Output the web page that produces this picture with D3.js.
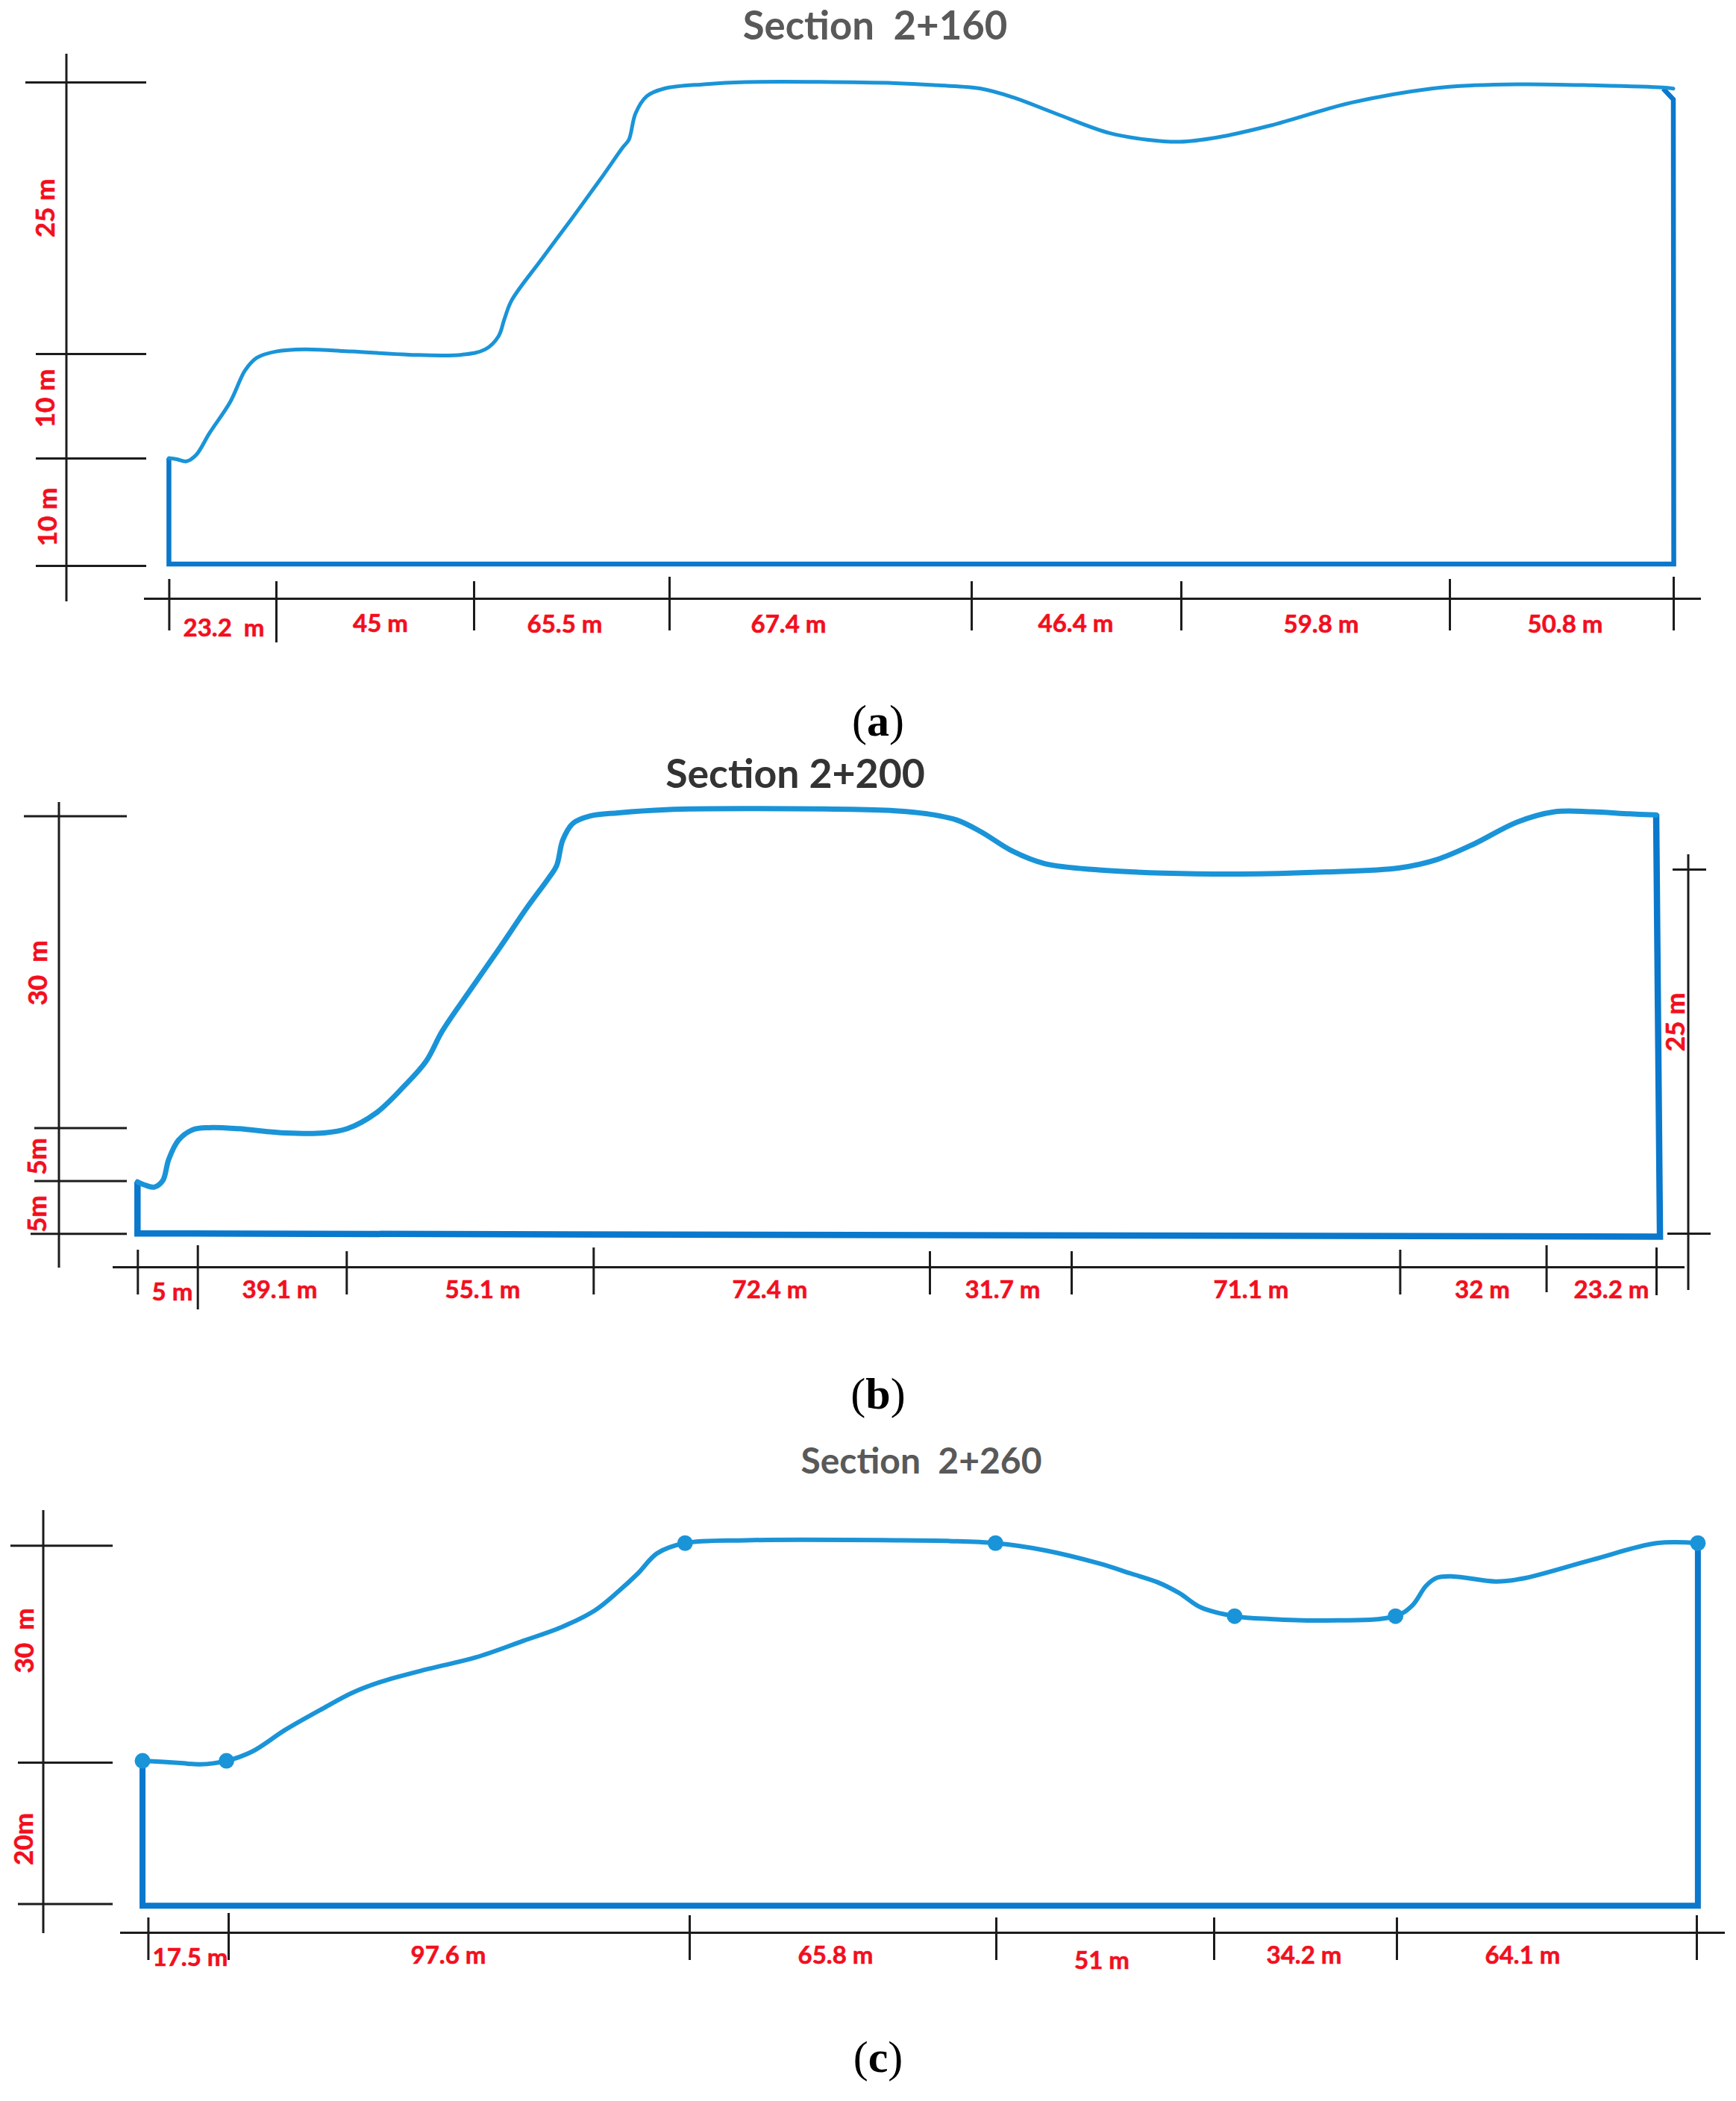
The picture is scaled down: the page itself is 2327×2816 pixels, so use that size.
<!DOCTYPE html>
<html>
<head>
<meta charset="utf-8">
<script src="https://cdnjs.cloudflare.com/ajax/libs/d3/7.8.5/d3.min.js"></script>
<style>
  html, body { margin: 0; padding: 0; background: #fff; }
  svg { display: block; }
</style>
</head>
<body>
<script>
// section 2+160
var segA = [23.2, 45, 65.5, 67.4, 46.4, 59.8, 50.8];
var segLabelsA = ["23.2  m", "45 m", "65.5 m", "67.4 m", "46.4 m", "59.8 m", "50.8 m"];
var levelsA = [0, 10, 20, 45];
var levelLabelsA = ["10 m", "10 m", "25 m"];
var distA = [0, 1.7, 3.8, 5.9, 8.8, 13.3, 16.5, 19, 23.2, 29.7, 40.5, 53.5, 65.5, 72.1, 76.5, 78.5, 80.9, 90.7, 100.7, 110.5, 118.2, 120.2, 122.4, 126.2, 132, 141.5, 150.8, 184.1, 193.7, 203.2, 210.3, 219.8, 231.7, 240, 247.2, 255.5, 267.4, 285.4, 303.3, 312.9, 325.1, 339.6, 355.6, 358.1];
var elevA = [10, 9.9, 9.7, 10.3, 12.4, 15.4, 18.4, 19.6, 20.2, 20.4, 20.2, 19.9, 19.9, 20.4, 21.6, 23.2, 24.9, 28.6, 32.3, 36, 39, 39.7, 42.1, 43.7, 44.4, 44.8, 45, 44.9, 44.7, 44.4, 43.6, 42.1, 40.3, 39.7, 39.5, 39.9, 41, 43.1, 44.4, 44.7, 44.8, 44.7, 44.5, 44.4];
var boxDistA = [355.8, 358.1, 358.2, 0, 0];
var boxElevA = [44.4, 43.4, 0.14, 0.14, 10];

// section 2+200
var segB = [5, 39.1, 55.1, 72.4, 31.7, 71.1, 32, 23.2];
var segLabelsB = ["5 m", "39.1 m", "55.1 m", "72.4 m", "31.7 m", "71.1 m", "32 m", "23.2 m"];
var levelsB = [0, 5, 10, 40];
var levelLabelsB = ["5m", "5m", "30  m"];
var distB = [0, 0.6, 1.4, 2.1, 2.6, 3.4, 4.6, 8.1, 15.7, 28.2, 38.2, 44.3, 50.7, 57, 61.9, 65.5, 72, 78.3, 84.6, 89.2, 91, 92.4, 94.7, 98.5, 104.6, 114.9, 132, 164.2, 171.1, 177.7, 183, 190.2, 197.4, 209.3, 223.2, 239.5, 258, 274.3, 282.5, 290.6, 300, 308.2, 316, 324, 329.6];
var elevB = [4.9, 4.6, 4.4, 5, 7, 8.8, 9.8, 10, 9.9, 9.5, 9.5, 9.9, 11.4, 14, 16.4, 19.3, 23.4, 27.3, 31.3, 34, 35.2, 37.7, 39.3, 40, 40.3, 40.6, 40.7, 40.5, 40.2, 39.6, 38.5, 36.6, 35.4, 34.8, 34.5, 34.4, 34.6, 35, 35.8, 37.3, 39.4, 40.4, 40.4, 40.2, 40.1];
var boxDistB = [329.6, 330.4, 0, 0];
var boxElevB = [40.2, -0.3, 0, 4.9];
var rightLevelsB = [0, 25];

// section 2+260
var segC = [17.5, 97.6, 65.8, 51, 34.2, 64.1];
var segLabelsC = ["17.5 m", "97.6 m", "65.8 m", "51 m", "34.2 m", "64.1 m"];
var levelsC = [0, 20, 50];
var levelLabelsC = ["20m", "30  m"];
var distC = [-1.2, 7.1, 11.3, 17.1, 22.6, 29.6, 37.7, 43.7, 49.7, 59.8, 69.9, 80, 88.1, 95.1, 100.2, 104.2, 108.3, 114.2, 127.3, 159.3, 170.9, 180.8, 192.4, 205, 212.5, 218.7, 223.8, 228.9, 235.8, 242.5, 252.6, 265.9, 269.5, 272.4, 274.7, 278.1, 287.3, 293, 307.9, 321.7, 330.5];
var elevC = [20.2, 19.9, 19.7, 20.2, 21.5, 24.5, 27.5, 29.6, 31.1, 32.9, 34.5, 36.8, 38.7, 41, 43.7, 46.1, 48.9, 50.3, 50.7, 50.7, 50.6, 50.3, 49.3, 47.5, 46.1, 44.9, 43.4, 41.4, 40.2, 39.8, 39.6, 40.2, 41.7, 44.4, 45.5, 45.7, 45, 45.4, 48, 50.3, 50.3];
var boxDistC = [330.5, 330.5, -1.2, -1.2];
var boxElevC = [50.3, -0.3, -0.3, 20.2];
var dotDistC = [-1.2, 17.1, 114.2, 180.8, 235.8, 265.9, 330.5];
var dotElevC = [20.2, 20.2, 50.3, 50.3, 40.2, 40.2, 50.3];

var LABEL_FONT = "Lato, sans-serif";
var RED = "#f20f1e";
var INK = "#1c1c1c";
var PROFILE = "#1a94d8";
var BOX = "#0a78cc";
var DIM_WIDTH = 3;

var svg = d3.select("body")
    .append("svg")
    .attr("width", 2327)
    .attr("height", 2816)
    .style("background-color", "white");

function cumulative(seg) {
    return [0].concat(Array.from(d3.cumsum(seg)));
}

function redText(sel, size) {
    return sel
        .attr("text-anchor", "middle")
        .attr("dy", "0.35em")
        .style("white-space", "pre")
        .attr("font-family", LABEL_FONT)
        .attr("font-weight", 700)
        .attr("font-size", size)
        .attr("fill", RED)
        .attr("stroke", RED)
        .attr("stroke-width", 0.6);
}

function drawSection(s) {
    var stations = cumulative(s.seg);
    var x = d3.scaleLinear().domain(stations).range(s.xRange);
    var y = d3.scaleLinear().domain(s.levels).range(s.yRange);
    var g = svg.append("g");

    // terrain outline
    var line = d3.line()
        .x(function(d) { return x(d[0]); })
        .y(function(d) { return y(d[1]); });

    g.append("path")
        .datum(d3.zip(s.boxDist, s.boxElev))
        .attr("d", line)
        .attr("fill", "none")
        .attr("stroke", BOX)
        .attr("stroke-width", s.boxWidth)
        .attr("stroke-linejoin", "miter");

    g.append("path")
        .datum(d3.zip(s.dist, s.elev))
        .attr("d", line.curve(d3.curveCatmullRom.alpha(0.5)))
        .attr("fill", "none")
        .attr("stroke", PROFILE)
        .attr("stroke-width", s.profileWidth)
        .attr("stroke-linecap", "round");

    if (s.dotDist) {
        g.selectAll("circle")
            .data(d3.zip(s.dotDist, s.dotElev))
            .enter()
            .append("circle")
            .attr("cx", function(d) { return x(d[0]); })
            .attr("cy", function(d) { return y(d[1]); })
            .attr("r", 10.5)
            .attr("fill", PROFILE);
    }

    // height dimension, left
    dimLeft(g, y, s.levels, s.leftAxis);
    if (s.rightAxis) {
        var yRight = d3.scaleLinear().domain(s.rightLevels).range(s.rightAxis.yRange);
        dimLeft(g, yRight, s.rightLevels, s.rightAxis);
    }

    // width dimension, bottom
    var bottom = g.append("g")
        .attr("transform", "translate(0," + s.bottomAxis.y + ")")
        .call(d3.axisBottom(x).tickValues(stations).tickFormat("").tickSizeOuter(0));
    bottom.select(".domain").remove();
    bottom.selectAll(".tick line")
        .attr("stroke", INK)
        .attr("stroke-width", DIM_WIDTH)
        .attr("y1", function(d, i) { return s.bottomAxis.tickTop[i] - s.bottomAxis.y; })
        .attr("y2", function(d, i) { return s.bottomAxis.tickBottom[i] - s.bottomAxis.y; });
    g.append("line")
        .attr("x1", s.bottomAxis.x1)
        .attr("x2", s.bottomAxis.x2)
        .attr("y1", s.bottomAxis.y)
        .attr("y2", s.bottomAxis.y)
        .attr("stroke", INK)
        .attr("stroke-width", DIM_WIDTH);

    // labels
    redText(g.selectAll("text.seg")
        .data(s.segLabels)
        .enter()
        .append("text")
        .attr("class", "seg")
        .attr("x", function(d, i) { return s.segLabelX[i]; })
        .attr("y", function(d, i) { return s.segLabelY[i]; }), 33)
        .text(function(d) { return d; });

    redText(g.selectAll("text.lev")
        .data(s.levelLabels)
        .enter()
        .append("text")
        .attr("class", "lev")
        .attr("transform", function(d, i) {
            return "translate(" + s.levelLabelPos[i][0] + "," + s.levelLabelPos[i][1] + ") rotate(-90)";
        }), 35)
        .text(function(d) { return d; });

    // title
    g.append("text")
        .attr("x", s.title.x)
        .attr("y", s.title.y)
        .attr("text-anchor", "middle")
        .style("white-space", "pre")
        .attr("font-family", LABEL_FONT)
        .attr("font-weight", 700)
        .attr("font-size", s.title.size)
        .attr("fill", s.title.fill)
        .text(s.title.text);

    // caption
    var cap = g.append("text")
        .attr("x", s.caption.x)
        .attr("y", s.caption.y)
        .attr("text-anchor", "middle")
        .attr("font-family", "'Liberation Serif', serif")
        .attr("font-size", 60)
        .attr("fill", "black");
    cap.append("tspan").text("(");
    cap.append("tspan").attr("font-weight", 700).text(s.caption.text);
    cap.append("tspan").text(")");
}

function dimLeft(g, y, levels, a) {
    var axis = g.append("g")
        .attr("transform", "translate(" + a.x + ",0)")
        .call(d3.axisLeft(y).tickValues(levels).tickFormat("").tickSizeOuter(0));
    axis.select(".domain").remove();
    axis.selectAll(".tick line")
        .attr("stroke", INK)
        .attr("stroke-width", DIM_WIDTH)
        .attr("x1", function(d, i) { return a.tickLeft[i] - a.x; })
        .attr("x2", function(d, i) { return a.tickRight[i] - a.x; });
    g.append("line")
        .attr("x1", a.x)
        .attr("x2", a.x)
        .attr("y1", a.top)
        .attr("y2", a.bottom)
        .attr("stroke", INK)
        .attr("stroke-width", DIM_WIDTH);
}

drawSection({
    seg: segA, segLabels: segLabelsA, levels: levelsA, levelLabels: levelLabelsA,
    dist: distA, elev: elevA, boxDist: boxDistA, boxElev: boxElevA,
    xRange: [226.4, 370, 635, 897, 1302, 1583, 1943, 2243],
    yRange: [758, 614, 474, 110],
    boxWidth: 6.5, profileWidth: 5,
    leftAxis: { x: 89, top: 72, bottom: 806, tickLeft: [48, 48, 48, 34], tickRight: [196, 196, 196, 196] },
    bottomAxis: { y: 802.5, x1: 193, x2: 2280,
        tickTop: [776, 779, 779, 773, 779, 779, 776, 773],
        tickBottom: [845, 861, 845, 845, 845, 845, 845, 845] },
    segLabelX: [300, 510, 757, 1057, 1442, 1771, 2098],
    segLabelY: [841, 835, 836, 836, 835, 836, 836],
    levelLabelPos: [[64, 693], [61, 534], [61, 279]],
    title: { x: 1173, y: 53, size: 52.7, fill: "#595959", text: "Section  2+160" },
    caption: { x: 1177, y: 986, text: "a" }
});

drawSection({
    seg: segB, segLabels: segLabelsB, levels: levelsB, levelLabels: levelLabelsB,
    dist: distB, elev: elevB, boxDist: boxDistB, boxElev: boxElevB,
    xRange: [184.3, 264.7, 464.3, 795.3, 1246, 1436, 1876.4, 2072.6, 2220],
    yRange: [1653.2, 1582.6, 1511.4, 1093.6],
    boxWidth: 8.5, profileWidth: 7,
    leftAxis: { x: 79, top: 1075, bottom: 1699, tickLeft: [41, 46, 46, 32], tickRight: [170, 170, 170, 170] },
    rightLevels: rightLevelsB,
    rightAxis: { x: 2263, top: 1145, bottom: 1729, yRange: [1653, 1165], tickLeft: [2235, 2242], tickRight: [2293, 2287] },
    bottomAxis: { y: 1698.6, x1: 151, x2: 2258,
        tickTop: [1675, 1669, 1677, 1672, 1677, 1677, 1675, 1669, 1672],
        tickBottom: [1735, 1755, 1735, 1735, 1735, 1735, 1735, 1732, 1736] },
    segLabelX: [231, 375, 647, 1032, 1344, 1677, 1987, 2160],
    segLabelY: [1731, 1728, 1728, 1728, 1728, 1728, 1728, 1728],
    levelLabelPos: [[50, 1627], [50, 1550], [51, 1304]],
    title: { x: 1066, y: 1056, size: 53.6, fill: "#333333", text: "Section 2+200" },
    caption: { x: 1177, y: 1888, text: "b" }
});

drawSection({
    seg: segC, segLabels: segLabelsC, levels: levelsC, levelLabels: levelLabelsC,
    dist: distC, elev: elevC, boxDist: boxDistC, boxElev: boxElevC,
    dotDist: dotDistC, dotElev: dotElevC,
    xRange: [198.4, 306, 924, 1335, 1627, 1872, 2274],
    yRange: [2551.4, 2362, 2071.2],
    boxWidth: 8, profileWidth: 6,
    leftAxis: { x: 58, top: 2024, bottom: 2591, tickLeft: [24, 24, 14], tickRight: [151, 151, 151] },
    bottomAxis: { y: 2590.5, x1: 161, x2: 2312,
        tickTop: [2570, 2564, 2567, 2570, 2570, 2570, 2567],
        tickBottom: [2627, 2627, 2627, 2627, 2627, 2627, 2627] },
    segLabelX: [255, 601, 1120, 1477, 1748, 2041],
    segLabelY: [2623, 2620, 2620, 2627, 2620, 2620],
    levelLabelPos: [[32, 2465], [33, 2199]],
    title: { x: 1235, y: 1975, size: 48, fill: "#595959", text: "Section  2+260" },
    caption: { x: 1177, y: 2777, text: "c" }
});

// 25 m label on the right of section 2+200
redText(svg.append("text")
    .attr("transform", "translate(2246,1370) rotate(-90)"), 35)
    .text("25 m");
</script>
</body>
</html>
